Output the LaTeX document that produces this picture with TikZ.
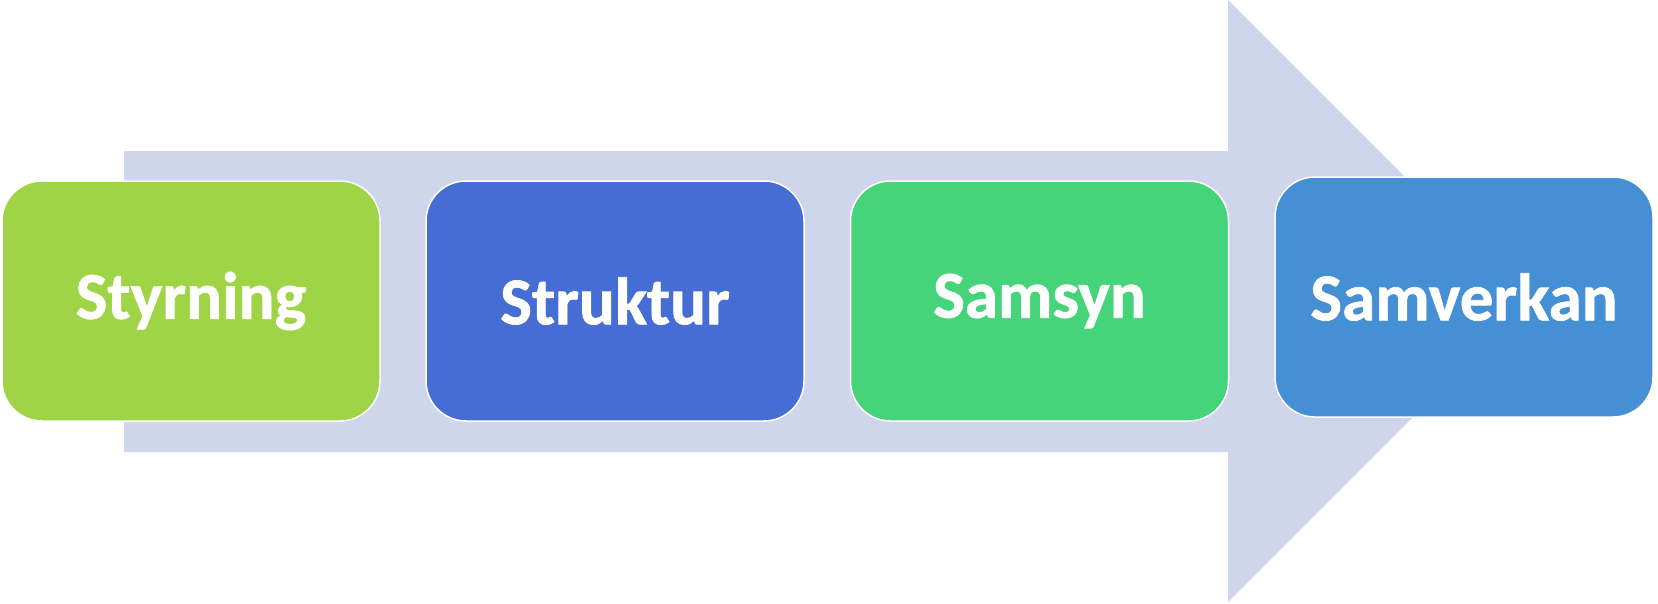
\documentclass[tikz,border=0pt]{standalone}
\usepackage{fontspec}
\setmainfont{Carlito}[BoldFont={Carlito Bold}, BoldFeatures={FakeBold=1}]
\definecolor{arrowc}{HTML}{CFD5EA}
\definecolor{cA}{HTML}{9FD447}
\definecolor{cB}{HTML}{466DD4}
\definecolor{cC}{HTML}{46D47A}
\definecolor{cD}{HTML}{4590D4}
\tikzset{
  stepbox/.style={rectangle, rounded corners=40pt, draw=white, line width=1.5pt,
    minimum width=378pt, minimum height=240pt, inner sep=0pt,
    text=white, font=\bfseries\fontsize{67}{80}\selectfont}
}
\begin{document}
\begin{tikzpicture}[x=1pt,y=-1pt]
\useasboundingbox (0,0) rectangle (1658,603);
\fill[arrowc] (124,151) -- (1228,151) -- (1228,0) -- (1529,301) -- (1228,602) -- (1228,452) -- (124,452) -- cycle;
\node[stepbox, fill=cA] (s1) at (191,301) {Styrning};
\node[stepbox, fill=cB] (s2) at (615,301) {Struktur};
\node[stepbox, fill=cC] (s3) at (1039.5,301) {Samsyn};
\node[stepbox, fill=cD] (s4) at (1464,297) {Samverkan};
\end{tikzpicture}
\end{document}
